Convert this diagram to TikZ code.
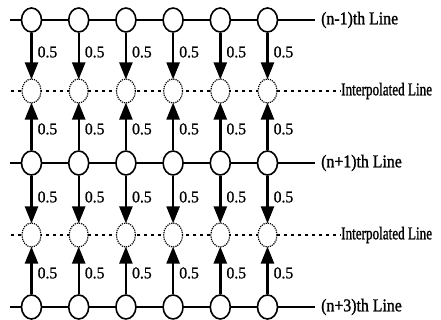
\documentclass[tikz,border=0pt]{standalone}
\usepackage{fontspec}
\setmainfont{Liberation Serif}
\newfontfamily\rowfont{Liberation Serif}[FakeStretch=0.88,FakeBold=1.2]
\newfontfamily\ipfont{Liberation Serif}[FakeStretch=0.73,FakeBold=1.2]
\newfontfamily\wfont{Liberation Serif}[FakeStretch=0.95,FakeBold=0.9]
\usetikzlibrary{arrows.meta,shapes.geometric}
\begin{document}
\begin{tikzpicture}[x=1pt,y=-1pt,
  pix/.style={ellipse,draw,line width=1.6pt,fill=white,minimum width=20pt,minimum height=24pt,inner sep=0pt},
  ipix/.style={ellipse,draw,densely dotted,line width=1.2pt,fill=white,minimum width=19pt,minimum height=24pt,inner sep=0pt},
  realline/.style={line width=1.6pt},
  interpline/.style={line width=1.3pt,dash pattern=on 2.5pt off 4.5pt},
  weight/.style={-{Triangle[length=17pt,width=13pt]},line width=2.4pt,shorten >=-1pt},
  wlabel/.style={font=\wfont\fontsize{16.5}{16.5}\selectfont,anchor=west,inner sep=0pt},
  rowlabel/.style={font=\rowfont\fontsize{18}{18}\selectfont,anchor=west,inner sep=0pt},
  iplabel/.style={font=\ipfont\fontsize{18}{18}\selectfont,anchor=west,inner sep=0pt}]
\useasboundingbox (0,0) rectangle (441,320);
% row y-positions: (n-1)th, interpolated, (n+1)th, interpolated, (n+3)th
\def\rowA{20}\def\rowB{91}\def\rowC{163}\def\rowD{235}\def\rowE{307}
% horizontal lines
\coordinate (la) at (10,\rowA); \coordinate (ra) at (315,\rowA);
\coordinate (lb) at (11,\rowB); \coordinate (rb) at (341,\rowB);
\coordinate (lc) at (10,\rowC); \coordinate (rc) at (315,\rowC);
\coordinate (ld) at (11,\rowD); \coordinate (rd) at (341,\rowD);
\coordinate (le) at (10,\rowE); \coordinate (re) at (315,\rowE);
\draw[realline] (la) -- (ra);
\draw[interpline] (lb) -- (rb);
\draw[realline] (lc) -- (rc);
\draw[interpline] (ld) -- (rd);
\draw[realline] (le) -- (re);
\node[rowlabel] (ta) at (321,\rowA) {(n-1)th Line};
\node[iplabel]  (tb) at (341,\rowB) {Interpolated Line};
\node[rowlabel] (tc) at (321,\rowC) {(n+1)th Line};
\node[iplabel]  (td) at (341,\rowD) {Interpolated Line};
\node[rowlabel] (te) at (321,\rowE) {(n+3)th Line};
% pixels and weights
\foreach \i/\x in {1/31.5,2/78.7,3/125.9,4/173.1,5/220.3,6/267.5}{
  \node[pix]  (a\i) at (\x,\rowA) {};
  \node[ipix] (b\i) at (\x,\rowB) {};
  \node[pix]  (c\i) at (\x,\rowC) {};
  \node[ipix] (d\i) at (\x,\rowD) {};
  \node[pix]  (e\i) at (\x,\rowE) {};
  \draw[weight] (a\i) -- (b\i);
  \draw[weight] (c\i) -- (b\i);
  \draw[weight] (c\i) -- (d\i);
  \draw[weight] (e\i) -- (d\i);
  \node[wlabel] (wa\i) at (\x+6,52) {0.5};
  \node[wlabel] (wb\i) at (\x+6,129) {0.5};
  \node[wlabel] (wc\i) at (\x+6,197) {0.5};
  \node[wlabel] (wd\i) at (\x+6,273) {0.5};
}
\end{tikzpicture}
\end{document}
